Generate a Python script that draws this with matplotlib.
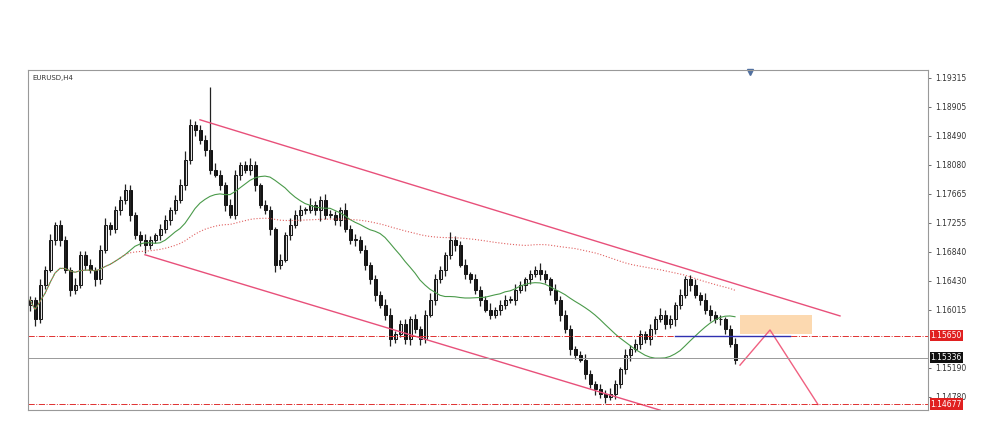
import matplotlib
matplotlib.use("Agg")
import matplotlib.pyplot as plt
import numpy as np
import pandas as pd
from matplotlib.patches import Rectangle

closes = [1.1616,1.1588,1.1637,1.1659,1.1701,1.1723,1.1701,1.1659,1.1630,1.1637,1.1680,1.1666,1.1659,1.1645,1.1687,1.1723,1.1716,1.1744,1.1758,1.1772,
1.1737,1.1708,1.1701,1.1694,1.1701,1.1708,1.1716,1.1730,1.1744,1.1758,1.1779,1.1815,1.1865,1.1858,1.1843,1.1829,1.1801,1.1794,1.1779,1.1751,
1.1737,1.1794,1.1808,1.1801,1.1808,1.1779,1.1751,1.1744,1.1716,1.1666,1.1673,1.1708,1.1723,1.1737,1.1744,1.1744,1.1751,1.1744,1.1758,1.1737,
1.1737,1.1730,1.1744,1.1716,1.1701,1.1701,1.1687,1.1666,1.1645,1.1623,1.1609,1.1595,1.1560,1.1567,1.1581,1.1560,1.1588,1.1574,1.1560,1.1595,
1.1616,1.1645,1.1659,1.1680,1.1701,1.1694,1.1666,1.1652,1.1645,1.1630,1.1616,1.1602,1.1595,1.1602,1.1609,1.1616,1.1616,1.1630,1.1637,1.1645,
1.1652,1.1659,1.1652,1.1645,1.1630,1.1616,1.1595,1.1574,1.1546,1.1538,1.1531,1.1510,1.1496,1.1489,1.1482,1.1477,1.1482,1.1496,1.1517,1.1538,
1.1546,1.1553,1.1567,1.1560,1.1574,1.1588,1.1595,1.1581,1.1588,1.1609,1.1623,1.1645,1.1637,1.1623,1.1616,1.1602,1.1595,1.1588,1.1588,1.1574,
1.1553,1.1531]
wick_up = [6,4,8,5,9,3,7,5,4,10,6,5,8,3,7,9,4,6,5,8,7,4,6,9,5,3,8,6,4,7,9,12,8,5,6,7,4,9,6,5,8,7,4,6,10,5,3,7,6,4,8,5,9,6,7,4,10,5,6,8,
7,5,4,9,6,8,5,7,4,6,5,8,9,4,6,7,5,8,4,6,9,7,5,4,12,6,5,8,4,7,6,5,9,4,6,7,5,8,6,4,7,5,9,6,4,8,5,7,6,4,5,8,6,4,7,5,9,6,4,8,
5,7,6,4,8,5,9,6,7,4,8,5,6,9,4,10,6,5,7,4,6,8,5,7,4,6,8,5,7,6]
wick_dn = [8,10,5,6,4,7,9,5,8,6,4,7,5,9,6,4,8,5,7,6,9,5,8,12,6,4,7,5,8,6,4,7,6,9,5,8,6,4,7,9,5,6,8,4,7,9,5,6,8,10,6,4,7,5,9,6,4,8,16,6,
5,7,9,4,6,8,5,7,6,9,5,8,10,6,4,7,9,5,8,6,4,7,5,9,6,8,4,7,5,6,9,4,7,5,8,6,4,7,5,9,6,4,8,5,7,6,9,5,8,6,4,7,5,9,6,8,4,7,5,6,
9,4,7,5,8,6,4,7,5,9,6,4,8,5,7,6,9,5,8,6,4,7,5,12,6,8,4,7,5,6]

yticks = [1.19315,1.18905,1.18490,1.18080,1.17665,1.17255,1.16840,1.16430,1.16015,1.15190,1.14780]
level_hi = 1.15650
level_lo = 1.14677
last_price = 1.15336

n = len(closes)
c = np.array(closes)
o = np.r_[c[0]-0.0008, c[:-1]]
hi = np.maximum(o, c) + np.array(wick_up[:n])*0.0001
lo = np.minimum(o, c) - np.array(wick_dn[:n])*0.0001
hi[36] = 1.1918

fig = plt.figure(figsize=(10, 4.34), dpi=100)
ax = fig.add_axes([0.028, 0.055, 0.9, 0.784])
x = np.arange(n)
ax.vlines(x, lo, hi, color='#222222', lw=0.9)
for i in range(n):
    up = c[i] >= o[i]
    b = min(o[i], c[i]); h = max(abs(c[i]-o[i]), 0.00008)
    ax.add_patch(Rectangle((i-0.3, b), 0.6, h, facecolor='white' if up else '#111111', edgecolor='#111111', lw=0.7))
s = pd.Series(c)
ax.plot(x, s.rolling(20, min_periods=1).mean(), color='#4a9a4a', lw=0.8)
ax.plot(x, s.rolling(100, min_periods=1).mean(), color='#e06060', lw=0.8, ls=':')

ax.plot([34, 162], [1.1872, 1.1593], color='#e8507a', lw=1)
ax.plot([23, 126], [1.1680, 1.1459], color='#e8507a', lw=1)
ax.plot([142, 148, 157.6], [1.1523, 1.1573, 1.1467], color='#f06080', lw=1)
ax.axhline(level_hi, color='#e03030', lw=0.7, ls='-.')
ax.axhline(level_lo, color='#e03030', lw=0.7, ls='-.')
ax.axhline(last_price, color='#999999', lw=0.7)
ax.plot([129, 152], [level_hi, level_hi], color='#3030b0', lw=1)
ax.add_patch(Rectangle((142, 1.1567), 14.4, 0.0028, facecolor='#fcd9b0', edgecolor='none'))

ax.set_xlim(-0.4, 179.6)
ax.set_ylim(1.1459, 1.1943)
ax.set_xticks([])
ax.yaxis.tick_right()
ax.set_yticks(yticks)
ax.set_yticklabels([f"{t:.5f}" for t in yticks], fontsize=5.5, color='#333333')
ax.tick_params(axis='y', length=2, width=0.5, pad=3, colors='#333333')
for sp in ax.spines.values():
    sp.set_color('#999999'); sp.set_linewidth(0.8)
for val, col in [(level_hi, '#e02020'), (last_price, '#111111'), (level_lo, '#e02020')]:
    ax.text(1.003, val, f"{val:.5f}", transform=ax.get_yaxis_transform(), fontsize=5.5, color='white',
            va='center', ha='left', bbox=dict(boxstyle='square,pad=0.15', fc=col, ec='none'))
ax.text(0.005, 0.985, "EURUSD,H4", transform=ax.transAxes, fontsize=5, va='top', color='#333333')
ax.plot([144], [1.1940], marker='v', color='#5070a0', markersize=5, clip_on=False)
fig.savefig("out.png", dpi=100, facecolor='white')
